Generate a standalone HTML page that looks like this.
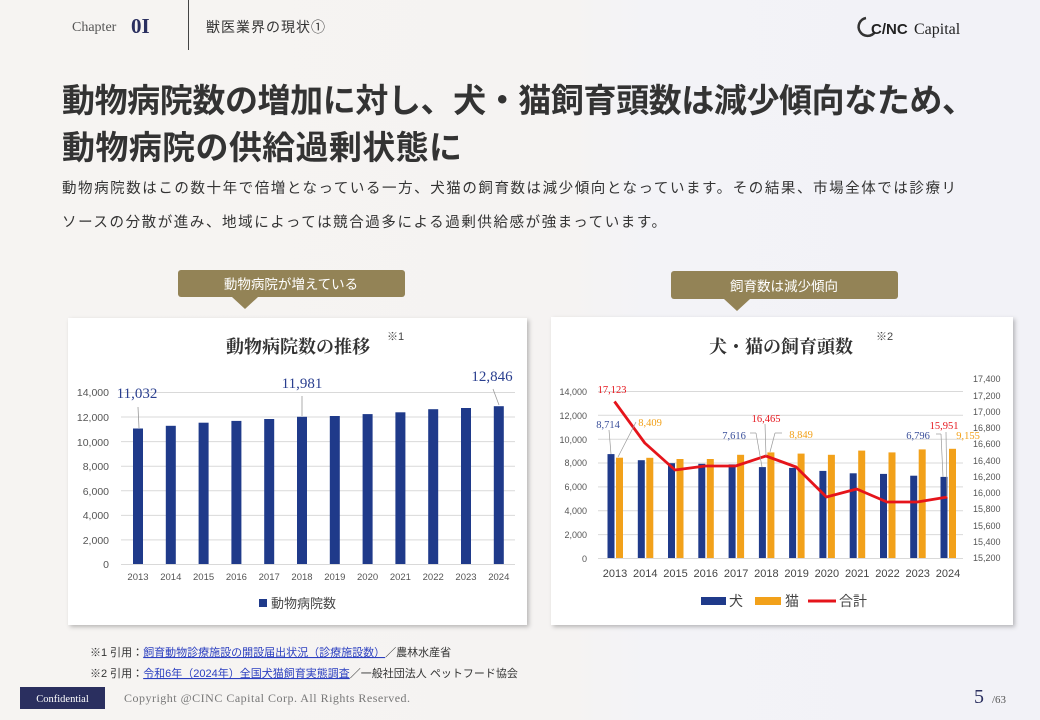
<!DOCTYPE html>
<html><head><meta charset="utf-8"><style>
html,body{margin:0;padding:0;}
body{width:1040px;height:720px;overflow:hidden;background:linear-gradient(90deg,#f6f4f2 0%,#f5f3f2 55%,#f3f3f7 62%,#f2f2f7 100%);}
svg{display:block;}
.jp{font-family:"Liberation Sans","Noto Sans CJK JP",sans-serif;}
.mn{font-family:"Liberation Serif","Noto Serif CJK JP",serif;}
</style></head><body>
<svg width="1040" height="720" viewBox="0 0 1040 720" xmlns="http://www.w3.org/2000/svg">
<defs>
<filter id="sh" x="-5%" y="-5%" width="110%" height="115%"><feDropShadow dx="2" dy="2" stdDeviation="2" flood-color="#000" flood-opacity="0.25"/></filter>
</defs>
<!-- header -->
<text x="72" y="31" class="mn" font-size="14" fill="#555">Chapter</text>
<text x="131" y="33" class="mn" font-size="21" font-weight="bold" fill="#2a2f5f">0I</text>
<line x1="188.5" y1="0" x2="188.5" y2="50" stroke="#444" stroke-width="1"/>
<text x="206" y="32" class="jp" font-size="14" fill="#333" letter-spacing="1">獣医業界の現状①</text>
<g>
<path d="M866 18 a9 9 0 1 0 9 14" fill="none" stroke="#333" stroke-width="2.5"/>
<text x="871" y="34" font-family="Liberation Sans,sans-serif" font-size="15" font-weight="bold" fill="#222">C/NC</text>
<text x="914" y="34" font-family="Liberation Serif,serif" font-size="16" fill="#222">Capital</text>
</g>
<!-- title -->
<text x="62" y="112" class="jp" font-size="33" font-weight="bold" fill="#333" textLength="913" lengthAdjust="spacing">動物病院数の増加に対し、犬・猫飼育頭数は減少傾向なため、</text>
<text x="62" y="159" class="jp" font-size="33" font-weight="bold" fill="#333" textLength="400" lengthAdjust="spacing">動物病院の供給過剰状態に</text>
<text x="62" y="193" class="jp" font-size="14.5" fill="#333" textLength="894" lengthAdjust="spacing">動物病院数はこの数十年で倍増となっている一方、犬猫の飼育数は減少傾向となっています。その結果、市場全体では診療リ</text>
<text x="62" y="227" class="jp" font-size="14.5" fill="#333" textLength="604" lengthAdjust="spacing">ソースの分散が進み、地域によっては競合過多による過剰供給感が強まっています。</text>
<!-- callouts -->
<rect x="178" y="270" width="227" height="27" rx="3" fill="#938356"/>
<path d="M232 297 L258 297 L245 309 Z" fill="#938356"/>
<text x="291" y="289" text-anchor="middle" class="jp" font-size="13.5" fill="#fff">動物病院が増えている</text>
<rect x="671" y="271" width="227" height="28" rx="3" fill="#938356"/>
<path d="M724 299 L750 299 L737 311 Z" fill="#938356"/>
<text x="784" y="291" text-anchor="middle" class="jp" font-size="13.5" fill="#fff">飼育数は減少傾向</text>
<!-- left card -->
<rect x="68" y="318" width="459" height="307" fill="#fff" filter="url(#sh)"/>
<text x="298" y="353" text-anchor="middle" class="mn" font-size="18" font-weight="bold" fill="#333">動物病院数の推移</text>
<text x="387" y="340" class="jp" font-size="11" fill="#444">※1</text>
<g stroke="#d9d9d9" stroke-width="1">
<line x1="121" x2="515" y1="564.5" y2="564.5"/><line x1="121" x2="515" y1="539.9" y2="539.9"/>
<line x1="121" x2="515" y1="515.4" y2="515.4"/><line x1="121" x2="515" y1="490.7" y2="490.7"/>
<line x1="121" x2="515" y1="466.2" y2="466.2"/><line x1="121" x2="515" y1="441.6" y2="441.6"/>
<line x1="121" x2="515" y1="417" y2="417"/><line x1="121" x2="515" y1="392.5" y2="392.5"/>
</g>
<g font-family="Liberation Sans,sans-serif" font-size="10.5" fill="#555" text-anchor="end">
<text x="109" y="568">0</text><text x="109" y="544">2,000</text><text x="109" y="519">4,000</text><text x="109" y="495">6,000</text>
<text x="109" y="470">8,000</text><text x="109" y="446">10,000</text><text x="109" y="421">12,000</text><text x="109" y="396">14,000</text>
</g>
<g fill="#1f3a8a">
<rect x="133" y="428.5" width="10" height="135.5"/><rect x="165.8" y="425.8" width="10" height="138.2"/>
<rect x="198.6" y="422.7" width="10" height="141.3"/><rect x="231.4" y="420.9" width="10" height="143.1"/>
<rect x="264.2" y="419" width="10" height="145"/><rect x="297" y="416.8" width="10" height="147.2"/>
<rect x="329.8" y="416" width="10" height="148"/><rect x="362.6" y="414.1" width="10" height="149.9"/>
<rect x="395.4" y="412.3" width="10" height="151.7"/><rect x="428.2" y="409.2" width="10" height="154.8"/>
<rect x="461" y="408" width="10" height="156"/><rect x="493.8" y="406.2" width="10" height="157.8"/>
</g>
<g font-family="Liberation Sans,sans-serif" font-size="9.5" fill="#555" text-anchor="middle">
<text x="138" y="580">2013</text><text x="170.8" y="580">2014</text><text x="203.6" y="580">2015</text><text x="236.4" y="580">2016</text>
<text x="269.2" y="580">2017</text><text x="302" y="580">2018</text><text x="334.8" y="580">2019</text><text x="367.6" y="580">2020</text>
<text x="400.4" y="580">2021</text><text x="433.2" y="580">2022</text><text x="466" y="580">2023</text><text x="498.8" y="580">2024</text>
</g>
<g stroke="#999" stroke-width="0.8" fill="none">
<line x1="138" y1="407" x2="139" y2="428"/><line x1="302" y1="396" x2="302" y2="416"/><line x1="493" y1="389" x2="499" y2="405"/>
</g>
<g class="mn" font-size="15" fill="#2a3f8f" text-anchor="middle">
<text x="137" y="398">11,032</text><text x="302" y="388">11,981</text><text x="492" y="381">12,846</text>
</g>
<rect x="259" y="599" width="8" height="8" fill="#1f3a8a"/>
<text x="271" y="608" class="jp" font-size="13" fill="#444">動物病院数</text>
<!-- right card -->
<rect x="551" y="317" width="462" height="308" fill="#fff" filter="url(#sh)"/>
<text x="781" y="353" text-anchor="middle" class="mn" font-size="18" font-weight="bold" fill="#333">犬・猫の飼育頭数</text>
<text x="876" y="340" class="jp" font-size="11" fill="#444">※2</text>
<g stroke="#d9d9d9" stroke-width="1">
<line x1="598" x2="963" y1="558.5" y2="558.5"/><line x1="598" x2="963" y1="534.6" y2="534.6"/>
<line x1="598" x2="963" y1="510.7" y2="510.7"/><line x1="598" x2="963" y1="486.9" y2="486.9"/>
<line x1="598" x2="963" y1="463" y2="463"/><line x1="598" x2="963" y1="439.2" y2="439.2"/>
<line x1="598" x2="963" y1="415.3" y2="415.3"/><line x1="598" x2="963" y1="391.5" y2="391.5"/>
</g>
<g font-family="Liberation Sans,sans-serif" font-size="9" fill="#555" text-anchor="end">
<text x="587" y="562">0</text><text x="587" y="538">2,000</text><text x="587" y="514">4,000</text><text x="587" y="490">6,000</text>
<text x="587" y="466">8,000</text><text x="587" y="443">10,000</text><text x="587" y="419">12,000</text><text x="587" y="395">14,000</text>
</g>
<g font-family="Liberation Sans,sans-serif" font-size="9" fill="#555">
<text x="973" y="561">15,200</text><text x="973" y="545">15,400</text><text x="973" y="529">15,600</text><text x="973" y="512">15,800</text>
<text x="973" y="496">16,000</text><text x="973" y="480">16,200</text><text x="973" y="464">16,400</text><text x="973" y="447">16,600</text>
<text x="973" y="431">16,800</text><text x="973" y="415">17,000</text><text x="973" y="399">17,200</text><text x="973" y="382">17,400</text>
</g>
<g fill="#1f3a8a">
<rect x="607.5" y="454.1" width="7" height="103.9"/><rect x="637.8" y="460.2" width="7" height="97.8"/>
<rect x="668" y="463.2" width="7" height="94.8"/><rect x="698.3" y="463.8" width="7" height="94.2"/>
<rect x="728.6" y="464.4" width="7" height="93.6"/><rect x="758.9" y="467.1" width="7" height="90.9"/>
<rect x="789.1" y="467.9" width="7" height="90.1"/><rect x="819.4" y="470.9" width="7" height="87.1"/>
<rect x="849.7" y="473.3" width="7" height="84.7"/><rect x="880" y="473.9" width="7" height="84.1"/>
<rect x="910.2" y="475.7" width="7" height="82.3"/><rect x="940.5" y="476.9" width="7" height="81.1"/>
</g>
<g fill="#f2a11a">
<rect x="616" y="457.7" width="7" height="100.3"/><rect x="646.3" y="457.8" width="7" height="100.2"/>
<rect x="676.5" y="459" width="7" height="99"/><rect x="706.8" y="459" width="7" height="99"/>
<rect x="737.1" y="454.8" width="7" height="103.2"/><rect x="767.4" y="452.4" width="7" height="105.6"/>
<rect x="797.6" y="453.6" width="7" height="104.4"/><rect x="827.9" y="454.8" width="7" height="103.2"/>
<rect x="858.2" y="450.6" width="7" height="107.4"/><rect x="888.5" y="452.4" width="7" height="105.6"/>
<rect x="918.7" y="449.4" width="7" height="108.6"/><rect x="949" y="448.8" width="7" height="109.2"/>
</g>
<polyline fill="none" stroke="#e5141b" stroke-width="2.8" stroke-linejoin="round" points="614.5,401.5 644.8,443 675,470 705.3,466 735.6,466 765.9,456 796.1,467 826.4,497 856.7,489 887,502 917.2,502 947.5,497"/>
<g stroke="#999" stroke-width="0.7" fill="none">
<line x1="609" y1="430" x2="611" y2="454"/><line x1="636" y1="422" x2="618" y2="457"/>
<line x1="750" y1="433" x2="756" y2="433"/><line x1="756" y1="433" x2="762" y2="467"/>
<line x1="765" y1="424" x2="766" y2="456"/><line x1="782" y1="433" x2="775" y2="433"/><line x1="775" y1="433" x2="770" y2="452"/>
<line x1="936" y1="434" x2="941" y2="434"/><line x1="941" y1="434" x2="943" y2="477"/><line x1="946" y1="432" x2="947" y2="497"/>
</g>
<g class="mn" font-size="10.5" text-anchor="middle">
<text x="612" y="393" fill="#e5141b">17,123</text>
<text x="608" y="428" fill="#3a4f9a">8,714</text>
<text x="650" y="426" fill="#f2a11a">8,409</text>
<text x="766" y="422" fill="#e5141b">16,465</text>
<text x="734" y="439" fill="#3a4f9a">7,616</text>
<text x="801" y="438" fill="#f2a11a">8,849</text>
<text x="944" y="429" fill="#e5141b">15,951</text>
<text x="918" y="439" fill="#3a4f9a">6,796</text>
<text x="968" y="439" fill="#f2a11a">9,155</text>
</g>
<g font-family="Liberation Sans,sans-serif" font-size="11" fill="#444" text-anchor="middle">
<text x="615" y="577">2013</text><text x="645.3" y="577">2014</text><text x="675.5" y="577">2015</text><text x="705.8" y="577">2016</text>
<text x="736.1" y="577">2017</text><text x="766.4" y="577">2018</text><text x="796.6" y="577">2019</text><text x="826.9" y="577">2020</text>
<text x="857.2" y="577">2021</text><text x="887.5" y="577">2022</text><text x="917.7" y="577">2023</text><text x="948" y="577">2024</text>
</g>
<rect x="701" y="597" width="25" height="8" fill="#1f3a8a"/>
<text x="729" y="606" class="jp" font-size="14" fill="#444">犬</text>
<rect x="755" y="597" width="26" height="8" fill="#f2a11a"/>
<text x="785" y="606" class="jp" font-size="14" fill="#444">猫</text>
<line x1="808" y1="601" x2="836" y2="601" stroke="#e5141b" stroke-width="3"/>
<text x="839" y="606" class="jp" font-size="14" fill="#444">合計</text>
<!-- footnotes -->
<text x="90" y="656" class="jp" font-size="11" fill="#333">※1 引用：<tspan fill="#2b3fc0" text-decoration="underline">飼育動物診療施設の開設届出状況（診療施設数）</tspan>／農林水産省</text>
<text x="90" y="677" class="jp" font-size="11" fill="#333">※2 引用：<tspan fill="#2b3fc0" text-decoration="underline">令和6年（2024年）全国犬猫飼育実態調査</tspan>／一般社団法人 ペットフード協会</text>
<!-- footer -->
<rect x="20" y="687" width="85" height="22" fill="#2a2f5f"/>
<text x="62.5" y="702" text-anchor="middle" class="mn" font-size="10.5" fill="#fff">Confidential</text>
<text x="124" y="702" class="mn" font-size="12" fill="#777" textLength="286" lengthAdjust="spacing">Copyright @CINC Capital Corp. All Rights Reserved.</text>
<text x="974" y="703" class="mn" font-size="20" fill="#2a2f5f">5</text>
<text x="992" y="703" class="mn" font-size="11" fill="#555">/63</text>
</svg>
</body></html>
